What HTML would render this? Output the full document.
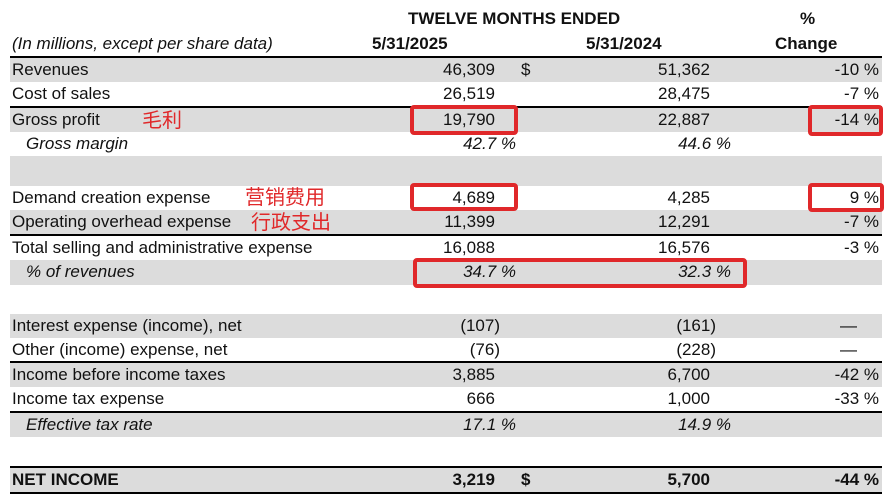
<!DOCTYPE html>
<html><head><meta charset="utf-8"><style>
body{margin:0;width:886px;height:500px;background:#fff;position:relative;overflow:hidden;font-family:"Liberation Sans","Noto Sans CJK SC",sans-serif;font-size:17px;color:#111}
.g{position:absolute;left:10px;width:872px;background:#dcdcdc}
.l{position:absolute;left:10px;width:872px;background:#000}
.t{position:absolute;white-space:nowrap;line-height:20px}
.r{text-align:right}
.i{font-style:italic}
.b{font-weight:bold}
.cn{position:absolute;color:#e0282a;font-size:20px;line-height:22px;white-space:nowrap;font-family:"Noto Sans CJK SC",sans-serif}
.box{position:absolute;border:4px solid #e0282a;border-radius:4px;box-sizing:border-box}
</style></head><body>
<div class="g" style="top:58px;height:24px"></div>
<div class="g" style="top:108px;height:24px"></div>
<div class="g" style="top:156px;height:30px"></div>
<div class="g" style="top:210px;height:24px"></div>
<div class="g" style="top:260px;height:25px"></div>
<div class="g" style="top:314px;height:24px"></div>
<div class="g" style="top:363px;height:24px"></div>
<div class="g" style="top:413px;height:24px"></div>
<div class="g" style="top:468px;height:24px"></div>
<div class="l" style="top:56px;height:2px"></div>
<div class="l" style="top:106px;height:2px"></div>
<div class="l" style="top:234px;height:2px"></div>
<div class="l" style="top:361px;height:2px"></div>
<div class="l" style="top:411px;height:2px"></div>
<div class="l" style="top:466px;height:2px"></div>
<div class="l" style="top:492px;height:2px"></div>

<div class="t b" style="left:408px;top:9px">TWELVE MONTHS ENDED</div>
<div class="t b" style="left:800px;top:9px">%</div>
<div class="t i" style="left:12px;top:34px">(In millions, except per share data)</div>
<div class="t b" style="left:372px;top:34px">5/31/2025</div>
<div class="t b" style="left:586px;top:34px">5/31/2024</div>
<div class="t b" style="left:775px;top:34px">Change</div>

<div class="t" style="left:12px;top:60px">Revenues</div>
<div class="t" style="left:12px;top:84px">Cost of sales</div>
<div class="t" style="left:12px;top:110px">Gross profit</div>
<div class="t i" style="left:26px;top:134px">Gross margin</div>
<div class="t" style="left:12px;top:188px">Demand creation expense</div>
<div class="t" style="left:12px;top:212px">Operating overhead expense</div>
<div class="t" style="left:12px;top:238px">Total selling and administrative expense</div>
<div class="t i" style="left:26px;top:262px">% of revenues</div>
<div class="t" style="left:12px;top:316px">Interest expense (income), net</div>
<div class="t" style="left:12px;top:340px">Other (income) expense, net</div>
<div class="t" style="left:12px;top:365px">Income before income taxes</div>
<div class="t" style="left:12px;top:389px">Income tax expense</div>
<div class="t i" style="left:26px;top:415px">Effective tax rate</div>
<div class="t b" style="left:12px;top:470px">NET INCOME</div>

<div class="cn" style="left:142px;top:108px">毛利</div>
<div class="cn" style="left:245px;top:185px">营销费用</div>
<div class="cn" style="left:251px;top:210px">行政支出</div>

<!-- col1 -->
<div class="t r" style="right:391px;top:60px">46,309</div>
<div class="t r" style="right:391px;top:84px">26,519</div>
<div class="t r" style="right:391px;top:110px">19,790</div>
<div class="t r i" style="right:370px;top:134px">42.7 %</div>
<div class="t r" style="right:391px;top:188px">4,689</div>
<div class="t r" style="right:391px;top:212px">11,399</div>
<div class="t r" style="right:391px;top:238px">16,088</div>
<div class="t r i" style="right:370px;top:262px">34.7 %</div>
<div class="t r" style="right:386px;top:316px">(107)</div>
<div class="t r" style="right:386px;top:340px">(76)</div>
<div class="t r" style="right:391px;top:365px">3,885</div>
<div class="t r" style="right:391px;top:389px">666</div>
<div class="t r i" style="right:370px;top:415px">17.1 %</div>
<div class="t r b" style="right:391px;top:470px">3,219</div>
<div class="t" style="left:521px;top:60px">$</div>
<div class="t b" style="left:521px;top:470px">$</div>

<!-- col2 -->
<div class="t r" style="right:176px;top:60px">51,362</div>
<div class="t r" style="right:176px;top:84px">28,475</div>
<div class="t r" style="right:176px;top:110px">22,887</div>
<div class="t r i" style="right:155px;top:134px">44.6 %</div>
<div class="t r" style="right:176px;top:188px">4,285</div>
<div class="t r" style="right:176px;top:212px">12,291</div>
<div class="t r" style="right:176px;top:238px">16,576</div>
<div class="t r i" style="right:155px;top:262px">32.3 %</div>
<div class="t r" style="right:170px;top:316px">(161)</div>
<div class="t r" style="right:170px;top:340px">(228)</div>
<div class="t r" style="right:176px;top:365px">6,700</div>
<div class="t r" style="right:176px;top:389px">1,000</div>
<div class="t r i" style="right:155px;top:415px">14.9 %</div>
<div class="t r b" style="right:176px;top:470px">5,700</div>

<!-- change -->
<div class="t r" style="right:7px;top:60px">-10 %</div>
<div class="t r" style="right:7px;top:84px">-7 %</div>
<div class="t r" style="right:7px;top:110px">-14 %</div>
<div class="t r" style="right:7px;top:188px">9 %</div>
<div class="t r" style="right:7px;top:212px">-7 %</div>
<div class="t r" style="right:7px;top:238px">-3 %</div>
<div class="t" style="left:840px;top:316px">—</div>
<div class="t" style="left:840px;top:340px">—</div>
<div class="t r" style="right:7px;top:365px">-42 %</div>
<div class="t r" style="right:7px;top:389px">-33 %</div>
<div class="t r b" style="right:7px;top:470px">-44 %</div>

<div class="box" style="left:410px;top:105px;width:108px;height:30px"></div>
<div class="box" style="left:808px;top:105px;width:75px;height:31px"></div>
<div class="box" style="left:410px;top:183px;width:108px;height:28px"></div>
<div class="box" style="left:808px;top:183px;width:76px;height:29px"></div>
<div class="box" style="left:413px;top:258px;width:334px;height:30px"></div>
</body></html>
